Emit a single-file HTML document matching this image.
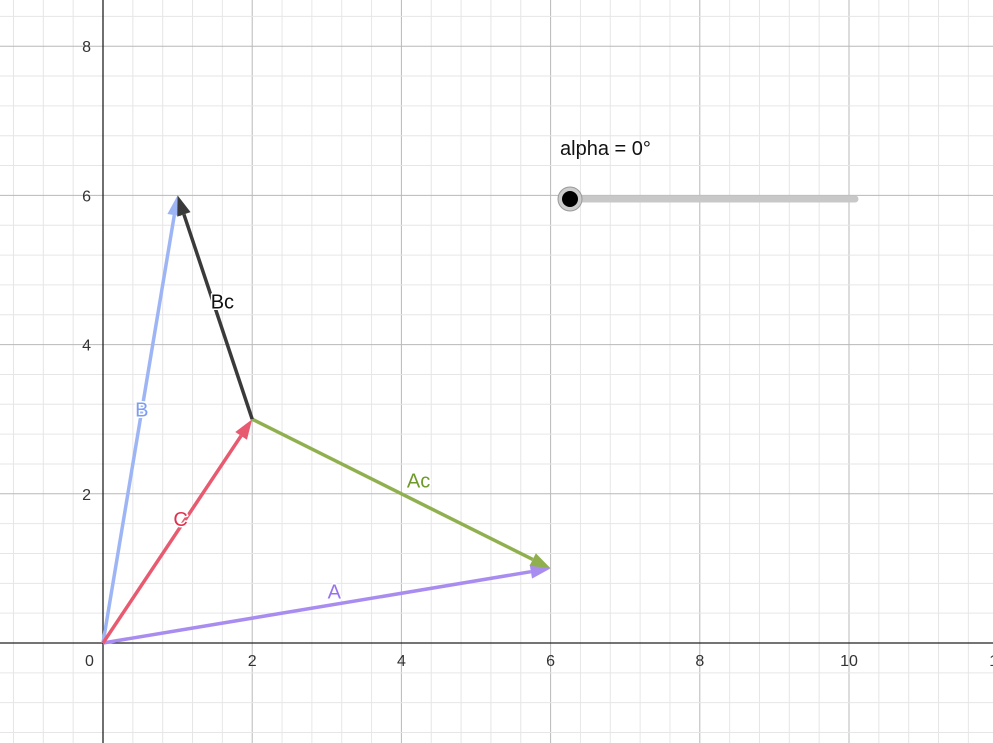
<!DOCTYPE html>
<html><head><meta charset="utf-8"><style>
html,body{margin:0;padding:0;background:#fff;}
svg{display:block;font-family:"Liberation Sans",sans-serif;}
.lbl{paint-order:stroke;stroke:#fff;stroke-width:3px;stroke-linejoin:round;}
</style></head><body>
<svg id="c" width="993" height="743"></svg>
<script>
const xTicks=[0,2,4,6,8,10,12];
const yTicks=[2,4,6,8];
const vecNames=["A","B","C","Ac","Bc"];
const vecStart=[[0,0],[0,0],[0,0],[2,3],[2,3]];
const vecEnd=[[6,1],[1,6],[2,3],[6,1],[1,6]];
const vecColors=["#a98cf0","#9db5f5","#e85a70","#90b050","#3a3a3a"];
const labelPos=[[3.1,0.69],[0.52,3.13],[1.04,1.66],[4.23,2.18],[1.6,4.58]];
const labelColors=["#9a70f0","#7f9cf5","#e0324f","#6f9a2a","#111"];
const alphaValue=0;
const X=v=>103+v*74.6, Y=v=>643-v*74.6;
const svg=document.getElementById('c'),NS="http://www.w3.org/2000/svg";
function mk(t,a,p){const e=document.createElementNS(NS,t);for(const k in a)e.setAttribute(k,a[k]);(p||svg).appendChild(e);return e;}
const g=mk('g',{});


for(let i=-3;i<=30;i++){const v=i*0.4;const x=X(v);if(x<0||x>993)continue;const major=Math.abs(v/2-Math.round(v/2))<1e-6;
mk('line',{x1:x,y1:0,x2:x,y2:743,stroke:major?'#b8b8b8':'#e6e6e6','stroke-width':1},g);}
for(let i=-4;i<=22;i++){const v=i*0.4;const y=Y(v);if(y<0||y>743)continue;const major=Math.abs(v/2-Math.round(v/2))<1e-6;
mk('line',{x1:0,y1:y,x2:993,y2:y,stroke:major?'#b8b8b8':'#e6e6e6','stroke-width':1},g);}
const ax=mk('line',{x1:0,y1:Y(0),x2:993,y2:Y(0),stroke:'#222','stroke-width':1.3});

const ay=mk('line',{x1:X(0),y1:0,x2:X(0),y2:743,stroke:'#222','stroke-width':1.3});

xTicks.forEach(t=>{const tx=mk('text',{x:t===0?X(0)-18:X(t),y:Y(0)+23,'font-size':16,fill:'#333','text-anchor':t===0?'start':'middle'});tx.textContent=t;
});
yTicks.forEach(t=>{const tx=mk('text',{x:X(0)-12,y:Y(t)+6,'font-size':16,fill:'#333','text-anchor':'end'});tx.textContent=t;
});
vecNames.forEach((n,i)=>{const x1=X(vecStart[i][0]),y1=Y(vecStart[i][1]),x2=X(vecEnd[i][0]),y2=Y(vecEnd[i][1]);
const vg=mk('g',{});
const dx=x2-x1,dy=y2-y1,L=Math.hypot(dx,dy),ux=dx/L,uy=dy/L,h=20,w=7;
const bx=x2-ux*h,by=y2-uy*h;
mk('line',{x1:x1,y1:y1,x2:bx,y2:by,stroke:vecColors[i],'stroke-width':3.5},vg);
mk('polygon',{points:`${x2},${y2} ${bx-uy*w},${by+ux*w} ${bx+uy*w},${by-ux*w}`,fill:vecColors[i]},vg);
const t=mk('text',{x:X(labelPos[i][0]),y:Y(labelPos[i][1])+7,'font-size':20,fill:labelColors[i],'text-anchor':'middle',class:'lbl'},vg);t.textContent=n;});
const sl=mk('g',{});
mk('line',{x1:570,y1:199,x2:855,y2:199,stroke:'#c8c8c8','stroke-width':7,'stroke-linecap':'round'},sl);
const kx=570+alphaValue/360*285;
mk('circle',{cx:kx,cy:199,r:12,fill:'#ccc',stroke:'#999','stroke-width':1},sl);
mk('circle',{cx:kx,cy:199,r:8,fill:'#000'},sl);
const at=mk('text',{x:560,y:155,'font-size':20,fill:'#111'});at.textContent='alpha = '+alphaValue+'°';

</script>
</body></html>
